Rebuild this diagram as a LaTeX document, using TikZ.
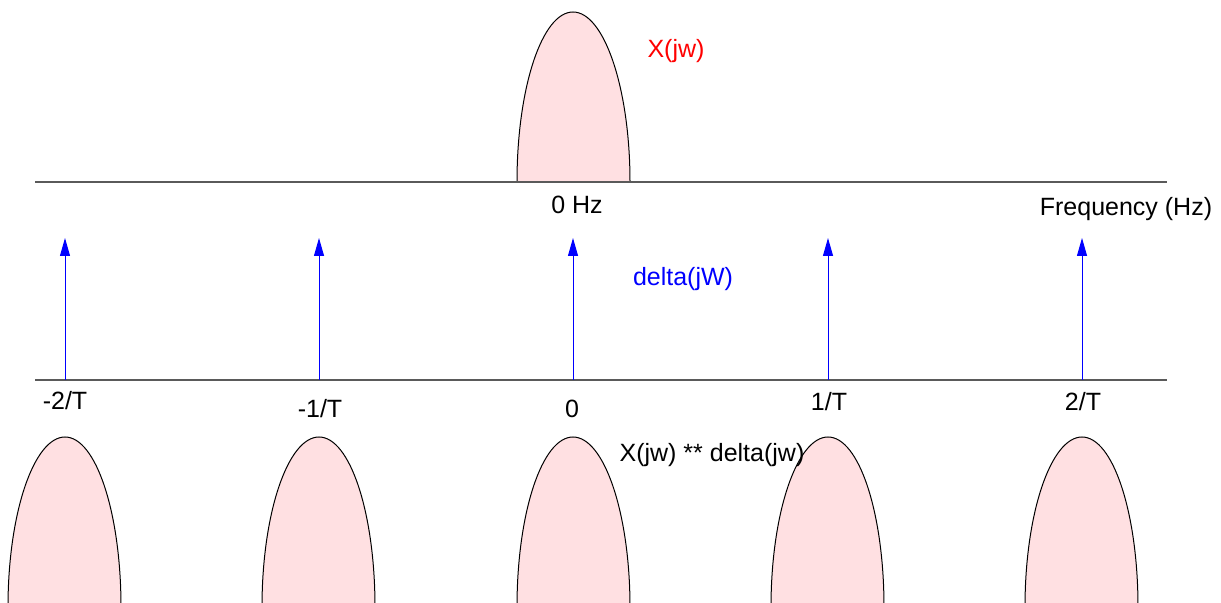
\documentclass[tikz,border=0pt]{standalone}
\definecolor{LobePink}{HTML}{FFE0E2}
\definecolor{AxisGray}{HTML}{5A5A5A}
\definecolor{ImpulseBlue}{HTML}{0000FF}
\usepackage{fontspec}
\setmainfont{Liberation Sans}
\usepackage{tikz}
\usetikzlibrary{arrows.meta}

\begin{document}
\begin{tikzpicture}[x=0.5pt, y=-0.5pt,
    every node/.style={inner sep=0pt, font=\fontsize{12.5}{15}\selectfont},
    axis/.style={AxisGray, line width=0.6pt},
    lobe/.style={draw=black, fill=LobePink, line width=0.5pt},
    impulse/.style={ImpulseBlue, line width=0.5pt, -{Triangle[length=9pt, width=5pt]}}]
        \useasboundingbox (0,0) rectangle (1221,603);

        % Spectrum X(jw)
        \filldraw[lobe] (517,182) .. controls (517,88) and (542,12) .. (573,12) .. controls (604,12) and (630,88) .. (630,182);
        \draw[axis] (35,182) -- (1167,182);
        \node[red] (xjw) at (676,51) {X(jw)};
        \node (zerohz) at (577,205) {0 Hz};
        \node (freq) at (1126,209) {Frequency (Hz)};

        % Impulse train
        \draw[axis] (35,380) -- (1167,380);
        \coordinate (bm2) at (65,380);  \coordinate (tm2) at (65,238);
        \coordinate (bm1) at (319,380); \coordinate (tm1) at (319,238);
        \coordinate (b0) at (573,380);  \coordinate (t0) at (573,238);
        \coordinate (bp1) at (828,380); \coordinate (tp1) at (828,238);
        \coordinate (bp2) at (1082,380); \coordinate (tp2) at (1082,238);
        \draw[impulse] (bm2) -- (tm2);
        \draw[impulse] (bm1) -- (tm1);
        \draw[impulse] (b0) -- (t0);
        \draw[impulse] (bp1) -- (tp1);
        \draw[impulse] (bp2) -- (tp2);
        \node[ImpulseBlue] (delta) at (683,279) {delta(jW)};
        \node (lm2) at (65,401) {-2/T};
        \node (lm1) at (320,409) {-1/T};
        \node (l0) at (572,409) {0};
        \node (lp1) at (829,402) {1/T};
        \node (lp2) at (1083,402) {2/T};

        % Replicated spectrum
        \begin{scope}
            \clip (0,0) rectangle (1221,603);
            \filldraw[lobe] (8,607) .. controls (8,513) and (34,437) .. (65,437) .. controls (96,437) and (121,513) .. (121,607);
            \filldraw[lobe] (262,607) .. controls (262,513) and (288,437) .. (319,437) .. controls (350,437) and (375,513) .. (375,607);
            \filldraw[lobe] (517,607) .. controls (517,513) and (542,437) .. (573,437) .. controls (604,437) and (630,513) .. (630,607);
            \filldraw[lobe] (771,607) .. controls (771,513) and (797,437) .. (828,437) .. controls (859,437) and (884,513) .. (884,607);
            \filldraw[lobe] (1025,607) .. controls (1025,513) and (1051,437) .. (1082,437) .. controls (1113,437) and (1138,513) .. (1138,607);
        \end{scope}
        \node (conv) at (712,455) {X(jw) ** delta(jw)};
    \end{tikzpicture}
\end{document}
